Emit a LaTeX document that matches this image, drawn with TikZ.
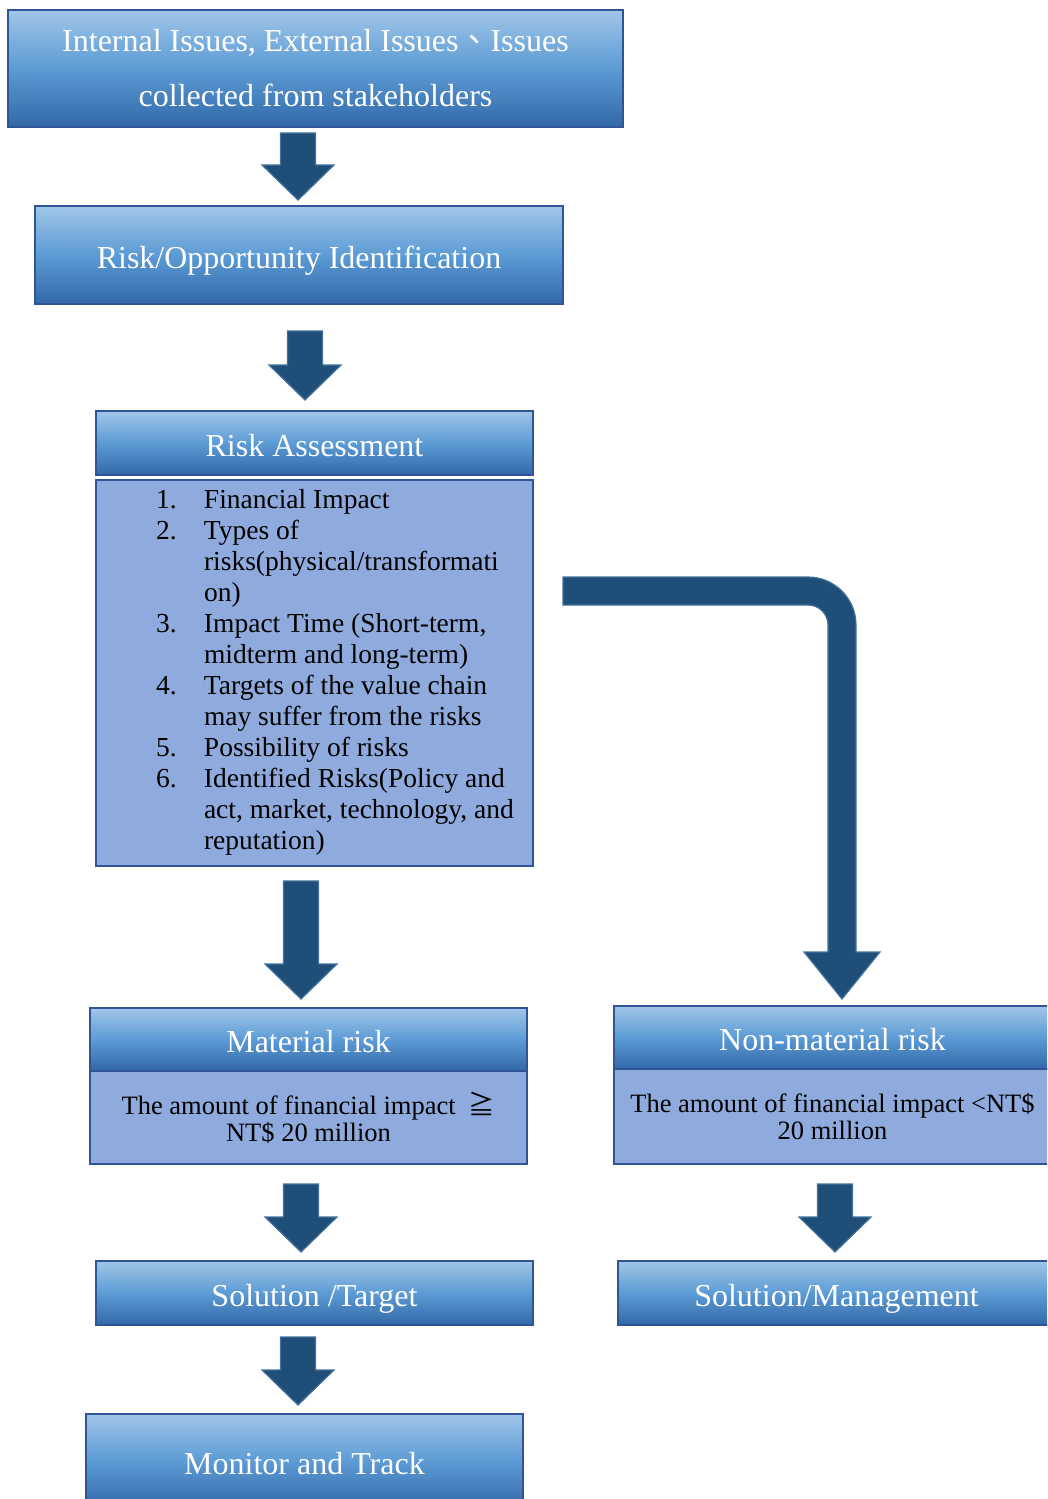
\documentclass[tikz,border=0pt]{standalone}
\usepackage{fontspec}
\setmainfont{Liberation Serif}
\newfontfamily\cjk{Noto Sans CJK TC}
\usepackage{tikz}
\usetikzlibrary{positioning,calc}

\definecolor{boxtop}{RGB}{160,198,232}
\definecolor{boxmid}{RGB}{92,155,213}
\definecolor{boxbot}{RGB}{50,104,168}
\definecolor{boxedge}{RGB}{47,85,151}
\definecolor{bodyfill}{RGB}{143,170,220}
\definecolor{arrowfill}{RGB}{31,78,121}
\definecolor{arrowedge}{RGB}{65,113,156}

\tikzset{
	headbox/.style={rectangle, draw=boxedge, line width=2pt, top color=boxtop,
		bottom color=boxbot, middle color=boxmid, text=white, inner sep=0pt,
		text height=30pt, text depth=4pt, font=\fontsize{32}{38}\selectfont},
	bodybox/.style={rectangle, draw=boxedge, line width=2pt, fill=bodyfill,
		inner sep=0pt, minimum width=437pt},
	blockarrow/.style={fill=arrowfill, draw=arrowedge, line width=1.2pt}
}

% block arrow: top of shaft from #1, tip at #2
\newcommand{\flowarrow}[2]{%
	\draw[blockarrow] let \p1=(#1), \p2=(#2) in
	(\x2-17.5,\y1) -- (\x2+17.5,\y1) -- (\x2+17.5,\y2+35) -- (\x2+36,\y2+35)
	-- (\x2,\y2) -- (\x2-36,\y2+35) -- (\x2-17.5,\y2+35) -- cycle;}

\begin{document}
\begin{tikzpicture}[x=1pt,y=-1pt]
	\useasboundingbox (0,0) rectangle (1047,1499);
	\clip (0,0) rectangle (1047,1499);
	
	\node[headbox, minimum width=615pt, minimum height=117pt, align=center,
		text height=, text depth=, font=\fontsize{32}{55}\selectfont] (issues) at (315.5,68.5)
		{Internal Issues, External Issues{\cjk 、}Issues\\collected from stakeholders};
	\node[headbox, minimum width=528pt, minimum height=98pt] (ident) at (299,255)
		{Risk/Opportunity Identification};
	\node[headbox, minimum width=437pt, minimum height=64pt] (assess) at (314.5,443)
		{Risk Assessment};
	\node[bodybox, minimum height=386pt, below=3pt of assess,
		font=\fontsize{27.5}{31}\selectfont] (assessbody)
		{\hspace*{60pt}\begin{tabular}{@{}p{48pt}@{}p{329pt}@{}}
			1.&Financial Impact\\
			2.&Types of\\
			&risks(physical/transformati\\
			&on)\\
			3.&Impact Time (Short-term,\\
			&midterm and long-term)\\
			4.&Targets of the value chain\\
			&may suffer from the risks\\
			5.&Possibility of risks\\
			6.&Identified Risks(Policy and\\
			&act, market, technology, and\\
			&reputation)
		\end{tabular}};
	
	\node[headbox, minimum width=437pt, minimum height=63pt] (mat) at (308.5,1039.5)
		{Material risk};
	\node[bodybox, minimum height=93pt, below=-2pt of mat, align=center,
		font=\fontsize{26.5}{27}\selectfont] (matbody)
		{The amount of financial impact~~{\cjk ≧}\\NT\$ 20 million};
	\node[headbox, minimum width=437pt, minimum height=63pt] (nonmat) at (832.5,1037.5)
		{Non-material risk};
	\node[bodybox, minimum height=95pt, below=-2pt of nonmat, align=center,
		font=\fontsize{26.5}{27}\selectfont] (nonmatbody)
		{The amount of financial impact <NT\$\\20 million};
	
	\node[headbox, minimum width=437pt, minimum height=64pt] (soltarget) at (314.5,1293)
		{Solution /Target};
	\node[headbox, minimum width=437pt, minimum height=64pt] (solmgmt) at (836.5,1293)
		{Solution/Management};
	\node[headbox, minimum width=437pt, minimum height=94pt] (monitor) at (304.5,1461)
		{Monitor and Track};
	
	\flowarrow{[yshift=-5]issues.south}{[xshift=-1,yshift=5]ident.north}
	\flowarrow{[yshift=-26]ident.south}{[xshift=-9.5,yshift=10]assess.north}
	\flowarrow{[yshift=-14]assessbody.south}{[xshift=-7.5,yshift=8]mat.north}
	\flowarrow{[yshift=-19]matbody.south}{[xshift=-13.5,yshift=8]soltarget.north}
	\flowarrow{[yshift=-19]nonmatbody.south}{[xshift=-1.5,yshift=8]solmgmt.north}
	\flowarrow{[yshift=-11]soltarget.south}{[xshift=-6.5,yshift=8]monitor.north}
	
	% bent arrow to the non-material branch
	\draw[blockarrow] let \p1=([xshift=29,yshift=82]assessbody.east),
		\p2=([xshift=9.5,yshift=6]nonmat.north) in
		(\x1,\y1+14) -- (\x2-34,\y1+14) arc[start angle=90,end angle=0,radius=48pt]
		-- (\x2+14,\y2+47) -- (\x2+38,\y2+47) -- (\x2,\y2) -- (\x2-38,\y2+47)
		-- (\x2-14,\y2+47) -- (\x2-14,\y1-34) arc[start angle=0,end angle=90,radius=20pt]
		-- (\x1,\y1-14) -- cycle;
\end{tikzpicture}
\end{document}
